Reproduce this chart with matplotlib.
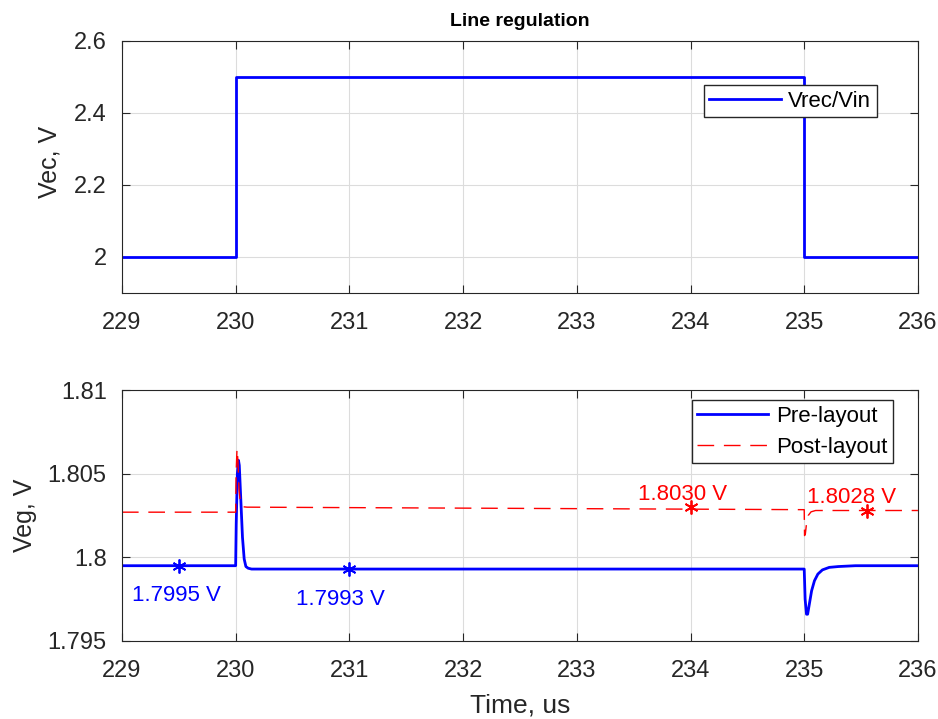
import matplotlib
matplotlib.use('Agg')
import matplotlib.pyplot as plt

plt.rcParams['font.family'] = ['Liberation Sans', 'DejaVu Sans']

# input step (Vrec/Vin)
t_in = [229.0, 230.0, 230.0, 235.0, 235.0, 236.0]
v_in = [2.0, 2.0, 2.5, 2.5, 2.0, 2.0]

# regulated output, pre-layout
t_pre = [229.0, 230.0, 230.005, 230.015, 230.025, 230.032, 230.045, 230.06, 230.075,
         230.09, 230.11, 230.14, 235.0, 235.008, 235.02, 235.03, 235.045, 235.065,
         235.09, 235.12, 235.16, 235.22, 235.3, 235.45, 236.0]
v_pre = [1.7995, 1.7995, 1.8020, 1.8050, 1.8058, 1.8055, 1.8035, 1.8012, 1.7999,
         1.79945, 1.79935, 1.7993, 1.7993, 1.7975, 1.7966, 1.7966, 1.7972, 1.7980,
         1.7986, 1.7990, 1.79925, 1.79940, 1.79945, 1.7995, 1.7995]

# regulated output, post-layout
t_post = [229.0, 230.0, 230.004, 230.012, 230.02, 230.03, 230.045, 230.07, 230.1,
          235.0, 235.003, 235.01, 235.02, 235.035, 235.06, 235.1, 235.2, 236.0]
v_post = [1.8027, 1.8027, 1.8050, 1.8065, 1.8058, 1.8040, 1.8031, 1.80302, 1.8030,
          1.80285, 1.8013, 1.8014, 1.8020, 1.8025, 1.80272, 1.8028, 1.8028, 1.8028]

# marked values
pre_mark_t = [229.5, 231.0]
pre_mark_v = [1.7995, 1.7993]
post_mark_t = [234.0, 235.55]
post_mark_v = [1.8030, 1.8028]

ink = '#262626'
grid_kw = dict(color='#dcdcdc', linewidth=0.8)
leg_kw = dict(loc='upper right', fontsize=16, fancybox=False, edgecolor=ink,
              framealpha=1, handlelength=3.2, borderpad=0.25,
              handletextpad=0.35, borderaxespad=0)

fig = plt.figure(figsize=(9.38, 7.19), dpi=100)
ax1 = fig.add_axes([0.130, 0.5925, 0.8486, 0.3505])
ax2 = fig.add_axes([0.130, 0.1085, 0.8486, 0.3490])

# --- top: input voltage ---
ax1.plot(t_in, v_in, color='blue', linewidth=2, label='Vrec/Vin')
ax1.set_xlim(229, 236)
ax1.set_ylim(1.9, 2.6)
ax1.set_yticks([2.0, 2.2, 2.4, 2.6])
ax1.set_yticklabels(['2', '2.2', '2.4', '2.6'])
ax1.set_ylabel('Vec, V', fontsize=18, color=ink)
ax1.yaxis.set_label_coords(-0.0754, 0.52)
ax1.set_title('Line regulation', fontsize=14, fontweight='bold', pad=11)
ax1.legend(bbox_to_anchor=(0.9485, 0.8254), **leg_kw)

# --- bottom: output voltage ---
ax2.plot(t_pre, v_pre, color='blue', linewidth=2, label='Pre-layout')
ax2.plot(t_post, v_post, color='red', linewidth=1.0, dashes=(12, 7),
         label='Post-layout')
ax2.plot(pre_mark_t, pre_mark_v, linestyle='none', marker=(6, 2, 0),
         markersize=10, color='blue', markeredgewidth=1.3)
ax2.plot(post_mark_t, post_mark_v, linestyle='none', marker=(6, 2, 0),
         markersize=10, color='red', markeredgewidth=1.3)

# value labels, nudged off their markers
pre_dx = [-0.02, -0.08]
post_dx = [-0.07, -0.13]
for t, v, dx in zip(pre_mark_t, pre_mark_v, pre_dx):
    ax2.text(t + dx, v - 0.0018, f'{v:.4f} V', color='blue', fontsize=16,
             ha='center', va='center')
for t, v, dx in zip(post_mark_t, post_mark_v, post_dx):
    ax2.text(t + dx, v + 0.00075, f'{v:.4f} V', color='red', fontsize=16,
             ha='center', va='center')
ax2.set_xlim(229, 236)
ax2.set_ylim(1.795, 1.81)
ax2.set_yticks([1.795, 1.8, 1.805, 1.81])
ax2.set_yticklabels(['1.795', '1.8', '1.805', '1.81'])
ax2.set_ylabel('Veg, V', fontsize=18, color=ink)
ax2.yaxis.set_label_coords(-0.107, 0.5)
ax2.set_xlabel('Time, us', fontsize=19, color=ink)
ax2.xaxis.set_label_coords(0.5, -0.21)
ax2.legend(bbox_to_anchor=(0.9686, 0.960), labelspacing=0.45, **leg_kw)

for ax in (ax1, ax2):
    ax.set_xticks(range(229, 237))
    ax.grid(True, **grid_kw)
    ax.set_axisbelow(True)
    ax.tick_params(direction='in', labelsize=17, top=True, right=True,
                   length=6, color=ink, labelcolor=ink)
    ax.tick_params(axis='x', pad=14)
    ax.tick_params(axis='y', pad=11)
    for s in ax.spines.values():
        s.set_color(ink)
        s.set_linewidth(0.8)

fig.savefig('out.png', dpi=100)
